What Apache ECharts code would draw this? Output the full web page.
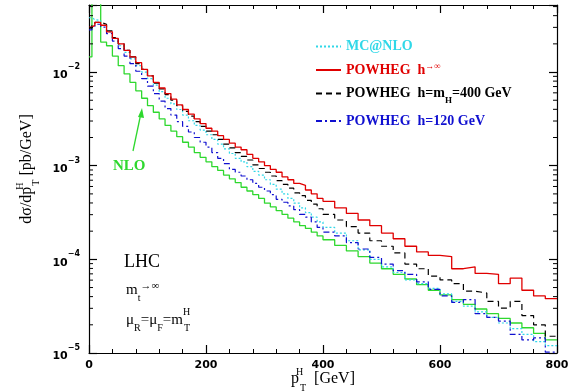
<!DOCTYPE html>
<html>
<head>
<meta charset="utf-8">
<script src="https://cdn.jsdelivr.net/npm/echarts@6/dist/echarts.min.js"></script>
<style>
  html, body { margin: 0; padding: 0; background: #fff; }
  #chart { width: 568px; height: 392px; }
</style>
</head>
<body>
<div id="chart"></div>
<script>
// Histogram bin edges in p_T^H [GeV]
const binEdges = [0,5,10,20,30,40,50,60,70,80,90,100,110,120,130,140,150,160,170,180,190,
  200,210,220,230,240,250,260,270,280,290,300,310,320,330,340,350,360,370,380,390,
  400,420,440,460,480,500,520,540,560,580,600,620,640,660,680,700,720,740,760,780,800];

// dσ/dp_T^H [pb/GeV] per bin
const mcatnlo = [3.80e-2,3.63e-2,3.55e-2,3.16e-2,2.69e-2,2.29e-2,1.91e-2,1.62e-2,1.38e-2,1.17e-2,1.00e-2,
  8.51e-3,7.24e-3,6.17e-3,5.25e-3,4.57e-3,3.98e-3,3.47e-3,3.02e-3,2.69e-3,2.40e-3,
  2.14e-3,1.91e-3,1.70e-3,1.51e-3,1.35e-3,1.20e-3,1.10e-3,9.77e-4,8.71e-4,7.94e-4,
  7.08e-4,6.31e-4,5.62e-4,5.01e-4,4.47e-4,3.98e-4,3.55e-4,3.16e-4,2.82e-4,2.51e-4,
  2.19e-4,1.91e-4,1.58e-4,1.26e-4,1.00e-4,8.32e-5,7.24e-5,6.03e-5,5.50e-5,4.90e-5,
  4.27e-5,3.55e-5,3.16e-5,2.75e-5,2.40e-5,2.09e-5,1.82e-5,1.58e-5,1.32e-5,1.20e-5];

const powhegInf = [3.02e-2,3.16e-2,3.39e-2,3.16e-2,2.69e-2,2.29e-2,2.00e-2,1.70e-2,1.45e-2,1.26e-2,1.07e-2,
  9.12e-3,7.76e-3,6.76e-3,5.89e-3,5.13e-3,4.47e-3,3.98e-3,3.55e-3,3.16e-3,2.82e-3,
  2.51e-3,2.34e-3,2.09e-3,1.91e-3,1.74e-3,1.58e-3,1.48e-3,1.32e-3,1.20e-3,1.10e-3,
  1.00e-3,9.12e-4,8.51e-4,7.59e-4,7.08e-4,6.46e-4,6.17e-4,5.50e-4,5.01e-4,4.47e-4,
  4.17e-4,3.55e-4,3.09e-4,2.63e-4,2.29e-4,1.91e-4,1.66e-4,1.38e-4,1.20e-4,1.10e-4,
  1.07e-4,7.94e-5,8.32e-5,7.08e-5,6.92e-5,5.50e-5,6.31e-5,4.68e-5,4.07e-5,3.80e-5];

const powheg400 = [2.95e-2,3.16e-2,3.39e-2,3.24e-2,2.75e-2,2.34e-2,2.00e-2,1.70e-2,1.45e-2,1.23e-2,1.07e-2,
  9.12e-3,7.59e-3,6.61e-3,5.75e-3,5.01e-3,4.37e-3,3.80e-3,3.39e-3,2.95e-3,2.63e-3,
  2.34e-3,2.14e-3,1.91e-3,1.70e-3,1.55e-3,1.38e-3,1.26e-3,1.15e-3,1.02e-3,9.33e-4,
  8.51e-4,7.76e-4,6.92e-4,6.31e-4,5.75e-4,5.13e-4,4.79e-4,4.27e-4,3.89e-4,3.47e-4,
  3.02e-4,2.63e-4,2.24e-4,1.91e-4,1.58e-4,1.38e-4,1.17e-4,8.91e-5,7.94e-5,6.61e-5,
  6.03e-5,5.50e-5,4.57e-5,4.37e-5,3.55e-5,3.02e-5,3.55e-5,2.51e-5,2.00e-5,1.51e-5];

const powheg120 = [2.82e-2,3.02e-2,3.24e-2,3.02e-2,2.57e-2,2.14e-2,1.78e-2,1.48e-2,1.23e-2,1.02e-2,8.51e-3,
  7.08e-3,5.89e-3,4.90e-3,4.07e-3,3.47e-3,2.95e-3,2.63e-3,2.29e-3,2.00e-3,1.78e-3,
  1.58e-3,1.38e-3,1.20e-3,1.05e-3,9.12e-4,8.51e-4,7.76e-4,7.08e-4,6.46e-4,5.89e-4,
  5.37e-4,4.90e-4,4.37e-4,4.07e-4,3.72e-4,3.39e-4,3.02e-4,2.82e-4,2.51e-4,2.19e-4,
  1.95e-4,1.78e-4,1.51e-4,1.29e-4,1.05e-4,8.91e-5,7.59e-5,6.92e-5,5.75e-5,4.79e-5,
  4.07e-5,3.47e-5,3.72e-5,2.63e-5,2.40e-5,2.19e-5,1.58e-5,1.38e-5,1.45e-5,1.02e-5];

const nlo = [1.45e-2,1.00e-1,1.00e-1,2.09e-2,1.91e-2,1.48e-2,1.17e-2,9.55e-3,7.76e-3,6.31e-3,5.25e-3,
  4.37e-3,3.72e-3,3.16e-3,2.69e-3,2.34e-3,2.04e-3,1.78e-3,1.58e-3,1.38e-3,1.23e-3,
  1.10e-3,9.77e-4,8.91e-4,7.94e-4,7.24e-4,6.61e-4,5.89e-4,5.37e-4,4.90e-4,4.47e-4,
  3.98e-4,3.63e-4,3.31e-4,3.02e-4,2.75e-4,2.51e-4,2.29e-4,2.14e-4,1.95e-4,1.78e-4,
  1.62e-4,1.41e-4,1.23e-4,1.07e-4,9.12e-5,7.94e-5,6.92e-5,6.17e-5,5.37e-5,4.68e-5,
  4.17e-5,3.72e-5,3.31e-5,2.95e-5,2.63e-5,2.34e-5,2.09e-5,1.86e-5,1.62e-5,1.38e-5];

const xTicks = [0, 200, 400, 600, 800];
const yRange = [1e-5, 0.052];

// Turn per-bin values into step-line points: left edge of each bin, plus the closing edge
function histPoints(vals) {
  const pts = vals.map((v, i) => [binEdges[i], v]);
  pts.push([binEdges[vals.length], vals[vals.length - 1]]);
  return pts;
}

// Minor log ticks (2..9 × 10^k) for the framed plot
const minorLogTicks = [];
for (let k = -5; k <= -2; k++) {
  for (let m = 2; m <= 9; m++) {
    const v = m * Math.pow(10, k);
    if (v < yRange[1]) minorLogTicks.push(v);
  }
}

const sansBold = 'DejaVu Sans';
const serif = 'Liberation Serif';

const chart = echarts.init(document.getElementById('chart'), null, { renderer: 'canvas' });

function yLabel(v) {
  const e = Math.round(Math.log10(v));
  if (Math.abs(Math.log10(v) - e) > 0.01) return '';
  return '{b|10}{e|\u2212' + (-e) + '}';
}

const legendNames = {
  'MC@NLO': 'MC@NLO',
  'POWHEG h\u2192\u221e': 'POWHEG  h{s|\u2192\u221e}',
  'POWHEG h=mH=400 GeV': 'POWHEG  h=m{sub|H}=400 GeV',
  'POWHEG h=120 GeV': 'POWHEG  h=120 GeV'
};

const lineBase = { symbol: 'none', showSymbol: false, step: 'end', type: 'line', silent: true, clip: true, xAxisIndex: 0, yAxisIndex: 0 };

const supSubRich = {
  s: { fontFamily: serif, fontSize: 10, verticalAlign: 'bottom', lineHeight: 14, padding: [0, 0, -6, 0] },
  ss: { fontFamily: serif, fontSize: 10, width: 1, verticalAlign: 'top', lineHeight: 14, padding: [-4, 0, 0, 0] }
};

const option = {
  animation: false,
  backgroundColor: '#fff',
  grid: { left: 89, right: 11, top: 5, bottom: 39, containLabel: false, outerBoundsMode: 'none' },
  xAxis: [
    {
      type: 'value', min: xTicks[0], max: xTicks[xTicks.length - 1], interval: 200, position: 'bottom',
      axisLine: { show: true, onZero: false, lineStyle: { color: '#000', width: 1.2 } },
      axisTick: { show: true, inside: true, length: 8, lineStyle: { color: '#000', width: 1.2 } },
      minorTick: { show: true, splitNumber: 5, length: 4, lineStyle: { color: '#000', width: 1 } },
      splitLine: { show: false },
      axisLabel: { fontFamily: sansBold, fontWeight: 'bold', fontSize: 11, color: '#000', margin: 7 },
      name: 'p{ss|H}{s|T}  [GeV]',
      nameLocation: 'middle', nameGap: 18, nameMoveOverlap: false,
      nameTextStyle: { fontFamily: serif, fontSize: 16, color: '#000', rich: supSubRich }
    },
    {
      type: 'value', min: xTicks[0], max: xTicks[xTicks.length - 1], interval: 200, position: 'top',
      axisLine: { show: true, onZero: false, lineStyle: { color: '#000', width: 1.2 } },
      axisTick: { show: true, inside: true, length: 8, lineStyle: { color: '#000', width: 1.2 } },
      minorTick: { show: true, splitNumber: 5, length: 4, lineStyle: { color: '#000', width: 1 } },
      splitLine: { show: false },
      axisLabel: { show: false }
    }
  ],
  yAxis: [
    {
      type: 'log', logBase: 10, min: yRange[0], max: yRange[1], position: 'left',
      axisLine: { show: true, onZero: false, lineStyle: { color: '#000', width: 1.2 } },
      axisTick: { show: true, inside: true, length: 8, lineStyle: { color: '#000', width: 1.2 } },
      splitLine: { show: false },
      axisLabel: {
        formatter: yLabel, margin: 9, color: '#000',
        rich: {
          b: { fontFamily: sansBold, fontWeight: 'bold', fontSize: 11, verticalAlign: 'bottom', lineHeight: 18 },
          e: { fontFamily: sansBold, fontWeight: 'bold', fontSize: 8, verticalAlign: 'top', lineHeight: 10 }
        }
      },
      name: 'd\u03c3/dp{ss|H}{s|T} [pb/GeV]',
      nameLocation: 'middle', nameGap: 54, nameRotate: 90,
      nameTextStyle: { fontFamily: serif, fontSize: 16, color: '#000', rich: supSubRich, padding: [0, 0, 0, 20] }
    },
    {
      type: 'log', logBase: 10, min: yRange[0], max: yRange[1], position: 'right',
      axisLine: { show: true, onZero: false, lineStyle: { color: '#000', width: 1.2 } },
      axisTick: { show: true, inside: true, length: 8, lineStyle: { color: '#000', width: 1.2 } },
      splitLine: { show: false },
      axisLabel: { show: false }
    }
  ],
  legend: {
    orient: 'vertical', left: 310, top: 34,
    itemWidth: 25, itemHeight: 14, itemGap: 8.5,
    selectedMode: false,
    itemStyle: { opacity: 0, borderWidth: 0 },
    textStyle: {
      fontFamily: serif, fontWeight: 'bold', fontSize: 14, lineHeight: 15,
      rich: {
        s: { fontFamily: serif, fontWeight: 'bold', fontSize: 9, verticalAlign: 'top', lineHeight: 10 },
        sub: { fontFamily: serif, fontWeight: 'bold', fontSize: 9, verticalAlign: 'bottom', lineHeight: 10, padding: [0, 0, -4, 0] }
      }
    },
    formatter: (name) => legendNames[name] || name,
    data: [
      { name: 'MC@NLO', textStyle: { color: '#30d8e8' } },
      { name: 'POWHEG h\u2192\u221e', textStyle: { color: '#e00000' } },
      { name: 'POWHEG h=mH=400 GeV', textStyle: { color: '#000000' } },
      { name: 'POWHEG h=120 GeV', textStyle: { color: '#1010d0' } }
    ]
  },
  series: [
    Object.assign({}, lineBase, {
      name: 'NLO', data: histPoints(nlo), z: 2,
      lineStyle: { color: '#2ed82e', width: 1.3, type: 'solid' }, itemStyle: { color: '#2ed82e' }
    }),
    Object.assign({}, lineBase, {
      name: 'MC@NLO', data: histPoints(mcatnlo), z: 3,
      lineStyle: { color: '#30d8e8', width: 1.2, type: [2, 2] }, itemStyle: { color: '#30d8e8' }
    }),
    Object.assign({}, lineBase, {
      name: 'POWHEG h=120 GeV', data: histPoints(powheg120), z: 4,
      lineStyle: { color: '#1010d0', width: 1.2, type: [6, 3, 2, 3] }, itemStyle: { color: '#1010d0' }
    }),
    Object.assign({}, lineBase, {
      name: 'POWHEG h=mH=400 GeV', data: histPoints(powheg400), z: 5,
      lineStyle: { color: '#000000', width: 1.2, type: [6, 4] }, itemStyle: { color: '#000000' }
    }),
    Object.assign({}, lineBase, {
      name: 'POWHEG h\u2192\u221e', data: histPoints(powhegInf), z: 6,
      lineStyle: { color: '#e00000', width: 1.3, type: 'solid' }, itemStyle: { color: '#e00000' }
    }),
    {
      // minor ticks on both vertical frame edges
      type: 'custom', silent: true, xAxisIndex: 0, yAxisIndex: 0, z: 10,
      data: minorLogTicks.map(v => [0, v]),
      renderItem: function (params, api) {
        const left = api.coord([xTicks[0], api.value(1)]);
        const right = api.coord([xTicks[xTicks.length - 1], api.value(1)]);
        const st = { stroke: '#000', lineWidth: 1 };
        return {
          type: 'group',
          children: [
            { type: 'line', shape: { x1: left[0], y1: left[1], x2: left[0] + 4, y2: left[1] }, style: st },
            { type: 'line', shape: { x1: right[0], y1: right[1], x2: right[0] - 4, y2: right[1] }, style: st }
          ]
        };
      }
    }
  ],
  graphic: [
    {
      type: 'text', left: 113, top: 159, z: 20,
      style: { text: 'NLO', fill: '#2ed82e', font: 'bold 15px "Liberation Serif"' }
    },
    {
      type: 'line', z: 20,
      shape: { x1: 133, y1: 151, x2: 141, y2: 113 },
      style: { stroke: '#2ed82e', lineWidth: 1.3 }
    },
    {
      type: 'polygon', z: 20,
      shape: { points: [[142, 108], [138, 117], [144, 118]] },
      style: { fill: '#2ed82e' }
    },
    {
      type: 'text', left: 124, top: 253, z: 20,
      style: { text: 'LHC', fill: '#000', font: '18px "Liberation Serif"' }
    },
    {
      type: 'text', left: 126, top: 281, z: 20,
      style: {
        text: 'm{sub|t}{ar|\u2192\u221e}', fill: '#000', font: '15px "Liberation Serif"',
        rich: {
          sub: { fontFamily: serif, fontSize: 10, verticalAlign: 'bottom', lineHeight: 18, padding: [0, 0, -4, 0] },
          ar: { fontFamily: serif, fontSize: 11, verticalAlign: 'top', lineHeight: 18 }
        }
      }
    },
    {
      type: 'text', left: 126, top: 307, z: 20,
      style: {
        text: '\u03bc{sub|R}=\u03bc{sub|F}=m{sup|H}{sub|T}', fill: '#000', font: '15px "Liberation Serif"',
        rich: {
          sub: { fontFamily: serif, fontSize: 10, verticalAlign: 'bottom', lineHeight: 18, padding: [0, 0, -4, 0] },
          sup: { fontFamily: serif, fontSize: 10, width: 1, verticalAlign: 'top', lineHeight: 18, padding: [-4, 0, 0, 0] }
        }
      }
    }
  ]
};

chart.setOption(option);
</script>
</body>
</html>
